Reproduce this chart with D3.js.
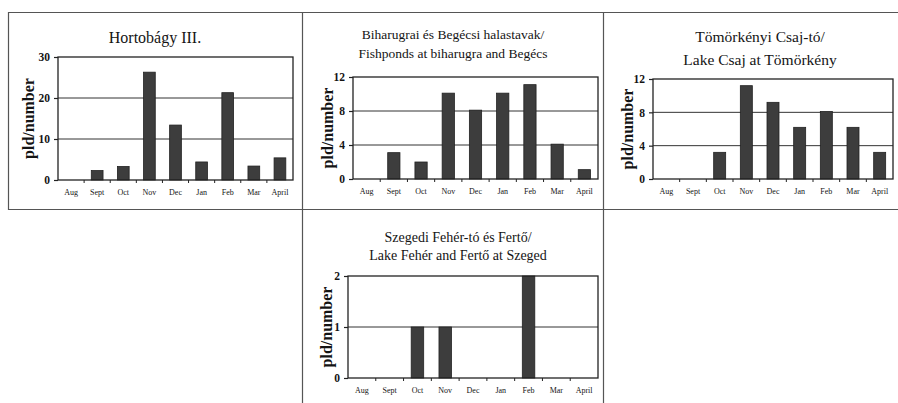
<!DOCTYPE html>
<html><head><meta charset="utf-8">
<script src="https://cdn.jsdelivr.net/npm/d3@7"></script>
<style>body{margin:0;background:#fff}svg{display:block}svg text{font-family:"Liberation Serif","DejaVu Serif",serif}</style>
</head><body>
<script>
const months = ["Aug","Sept","Oct","Nov","Dec","Jan","Feb","Mar","April"];
const hortobagyValues = [0, 2.3, 3.3, 26.3, 13.4, 4.4, 21.3, 3.4, 5.4];
const biharugraValues = [0, 3.1, 2, 10.1, 8.1, 10.1, 11.1, 4.1, 1.1];
const tomorkenyValues = [0, 0, 3.2, 11.2, 9.2, 6.2, 8.1, 6.2, 3.2];
const szegedValues = [0, 0, 1, 1, 0, 0, 2, 0, 0];
const hortobagyTicks = [0, 10, 20, 30];
const biharugraTicks = [0, 4, 8, 12];
const tomorkenyTicks = [0, 4, 8, 12];
const szegedTicks = [0, 1, 2];
const hortobagyTitle = ["Hortobágy III."];
const biharugraTitle = ["Biharugrai és Begécsi halastavak/", "Fishponds at biharugra and Begécs"];
const tomorkenyTitle = ["Tömörkényi Csaj-tó/", "Lake Csaj at Tömörkény"];
const szegedTitle = ["Szegedi Fehér-tó és Fertő/", "Lake Fehér and Fertő at Szeged"];
const yLabel = "pld/number";

const W = 898, H = 403;
const svg = d3.select("body").append("svg").attr("width", W).attr("height", H);
const INK = "#141414";

// panel frame lines
const frame = svg.append("g").attr("stroke", "#555").attr("stroke-width", 1.2).attr("fill", "none");
frame.append("line").attr("x1", 8).attr("y1", 12.5).attr("x2", 898).attr("y2", 12.5);
frame.append("line").attr("x1", 8).attr("y1", 209.5).attr("x2", 898).attr("y2", 209.5);
frame.append("line").attr("x1", 8.5).attr("y1", 12).attr("x2", 8.5).attr("y2", 210);
frame.append("line").attr("x1", 302.5).attr("y1", 12).attr("x2", 302.5).attr("y2", 403);
frame.append("line").attr("x1", 603.5).attr("y1", 12).attr("x2", 603.5).attr("y2", 403);

const panels = [
  {values: hortobagyValues, ticks: hortobagyTicks, title: hortobagyTitle,
   box: {l: 58, r: 293, t: 57, b: 180}, titleY: [43], titleX: 155, titleSize: 16, ylabX: 28},
  {values: biharugraValues, ticks: biharugraTicks, title: biharugraTitle,
   box: {l: 353, r: 598, t: 77, b: 179}, titleY: [39, 58], titleX: 453, titleSize: 13.5, ylabX: 327},
  {values: tomorkenyValues, ticks: tomorkenyTicks, title: tomorkenyTitle,
   box: {l: 653, r: 893, t: 79, b: 179}, titleY: [42, 65], titleX: 760, titleSize: 15.5, ylabX: 627},
  {values: szegedValues, ticks: szegedTicks, title: szegedTitle,
   box: {l: 348, r: 598, t: 276, b: 378}, titleY: [242, 260], titleX: 458, titleSize: 14, ylabX: 326}
];

panels.forEach(p => {
  const g = svg.append("g");
  const b = p.box;
  const x = d3.scaleBand().domain(months).range([b.l, b.r]).paddingInner(0.55).paddingOuter(0.275);
  const y = d3.scaleLinear().domain([0, d3.max(p.ticks)]).range([b.b, b.t]);

  // gridlines
  g.append("g").selectAll("line").data(p.ticks.slice(1, -1)).join("line")
    .attr("x1", b.l).attr("x2", b.r).attr("y1", d => y(d)).attr("y2", d => y(d))
    .attr("stroke", "#333").attr("stroke-width", 1);

  // bars
  g.append("g").selectAll("rect").data(months).join("rect")
    .attr("x", d => x(d)).attr("width", x.bandwidth())
    .attr("y", (d, i) => y(p.values[i]))
    .attr("height", (d, i) => b.b - y(p.values[i]))
    .attr("fill", "#3d3d3d").attr("stroke", "#222").attr("stroke-width", 0.8);

  // plot box
  g.append("rect").attr("x", b.l).attr("y", b.t).attr("width", b.r - b.l).attr("height", b.b - b.t)
    .attr("fill", "none").attr("stroke", "#222").attr("stroke-width", 1.3);

  // y axis
  const ya = d3.axisLeft(y).tickValues(p.ticks).tickSize(4).tickPadding(4).tickFormat(d3.format("d"));
  const yg = g.append("g").attr("transform", `translate(${b.l},0)`).call(ya);
  yg.attr("font-family", null);
  yg.select(".domain").remove();
  yg.selectAll("line").attr("stroke", "#222").attr("stroke-width", 1.2);
  yg.selectAll("text").attr("font-size", 11.5).attr("font-weight", "bold").attr("fill", INK);

  // x axis
  const xa = d3.axisBottom(x).tickSize(0).tickPadding(9);
  const xg = g.append("g").attr("transform", `translate(0,${b.b})`).call(xa);
  xg.attr("font-family", null);
  xg.select(".domain").remove();
  xg.selectAll("text").attr("font-size", 8).attr("fill", INK);
  // small separator ticks between categories
  const step = x.step();
  g.append("g").selectAll("line").data(months.slice(1)).join("line")
    .attr("x1", d => x(d) - step * 0.275).attr("x2", d => x(d) - step * 0.275)
    .attr("y1", b.b).attr("y2", b.b + 3).attr("stroke", "#222").attr("stroke-width", 1);

  // title
  g.append("g").selectAll("text").data(p.title).join("text")
    .attr("x", p.titleX).attr("y", (d, i) => p.titleY[i]).attr("text-anchor", "middle")
    .attr("font-size", p.titleSize).attr("fill", INK).text(d => d);

  // y label
  g.append("text").attr("transform", `translate(${p.ylabX},${(b.t + b.b) / 2}) rotate(-90)`)
    .attr("text-anchor", "middle").attr("dominant-baseline", "central")
    .attr("font-size", 16).attr("font-weight", "bold").attr("fill", INK)
    .text(yLabel);
});
</script>
</body></html>
